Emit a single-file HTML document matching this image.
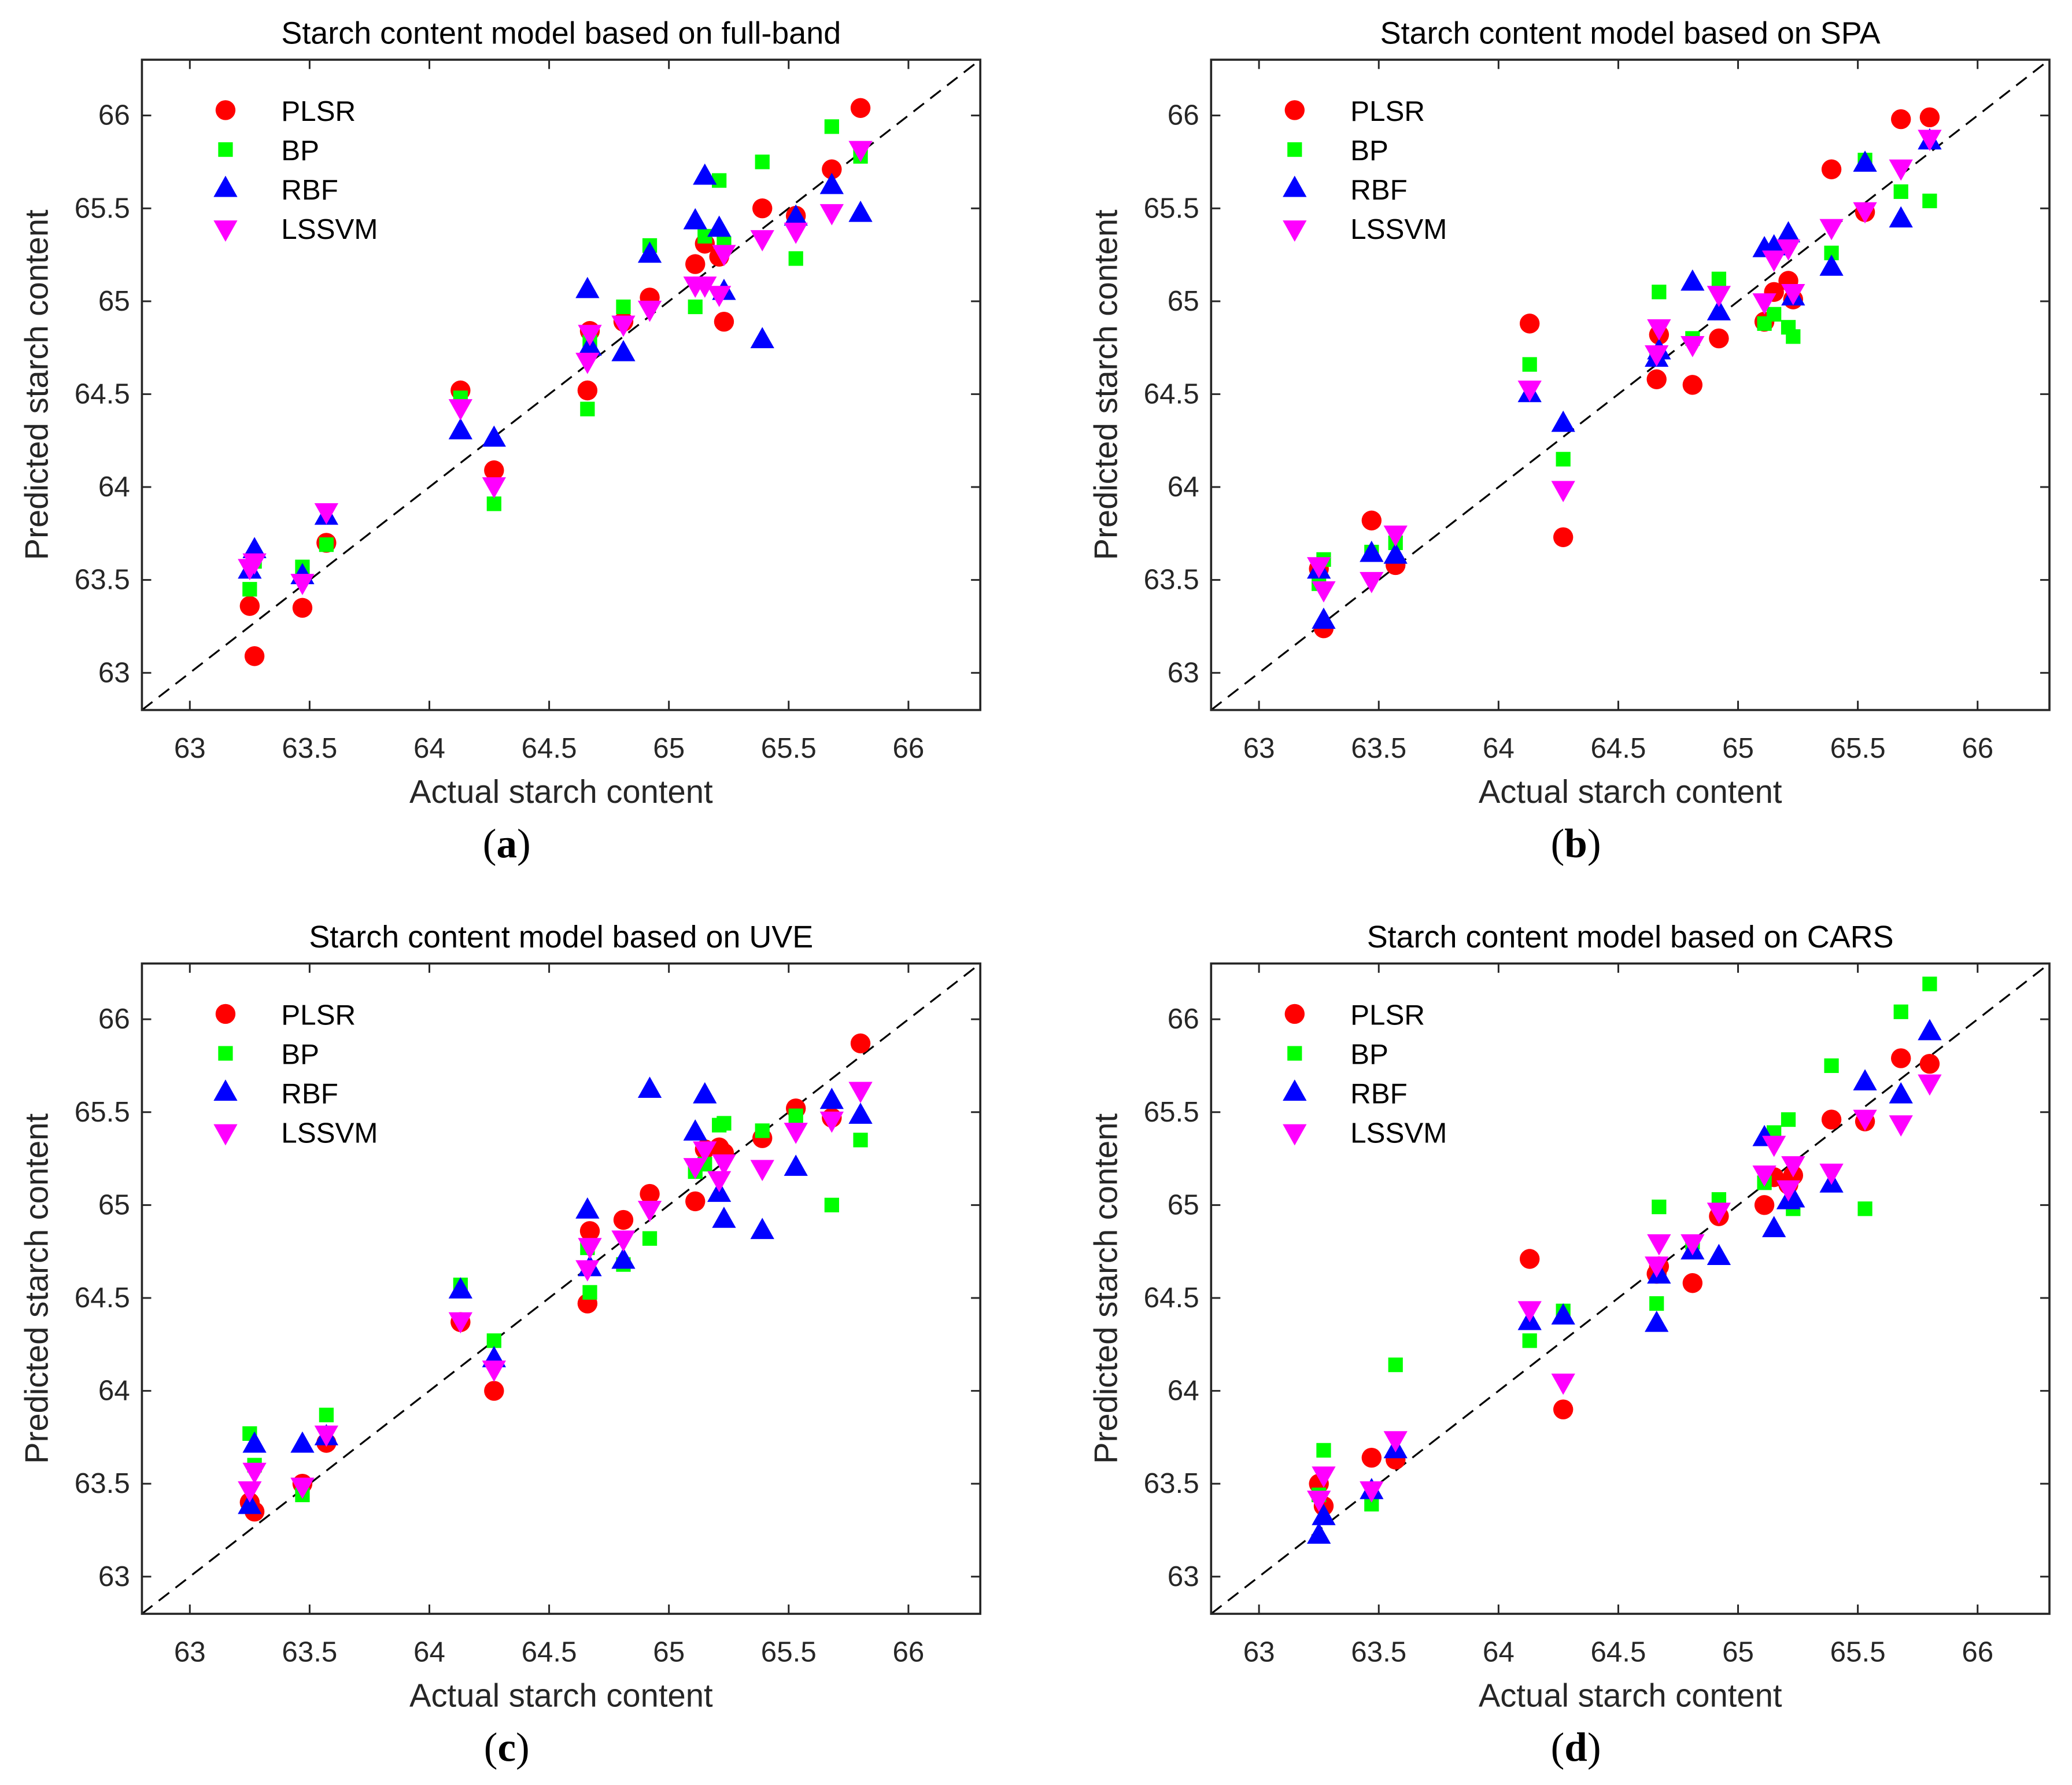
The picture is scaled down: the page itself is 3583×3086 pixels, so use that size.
<!DOCTYPE html>
<html><head><meta charset="utf-8"><style>html,body{margin:0;padding:0;background:#fff}svg{display:block}</style></head>
<body>
<svg id="fig" width="3583" height="3086" viewBox="0 0 1562 1345" preserveAspectRatio="none" xmlns="http://www.w3.org/2000/svg" font-family="Liberation Sans, Arial, sans-serif"></svg>
<script>
const actualX = [63.25,63.27,63.47,63.57,64.13,64.27,64.66,64.67,64.81,64.92,65.11,65.15,65.21,65.23,65.39,65.53,65.68,65.80];
const seriesNames = ["PLSR","BP","RBF","LSSVM"];
const ticks = [63,63.5,64,64.5,65,65.5,66];
const tickLabels = ["63","63.5","64","64.5","65","65.5","66"];
const titles = ["Starch content model based on full-band","Starch content model based on SPA","Starch content model based on UVE","Starch content model based on CARS"];
const panelLetters = ["a","b","c","d"];
const aPLSR = [63.36,63.09,63.35,63.70,64.52,64.09,64.52,64.84,64.89,65.02,65.20,65.31,65.24,64.89,65.50,65.46,65.71,66.04];
const aBP = [63.45,63.60,63.57,63.69,64.48,63.91,64.42,64.78,64.97,65.30,64.97,65.35,65.65,65.31,65.75,65.23,65.94,65.78];
const aRBF = [63.55,63.66,63.52,63.84,64.30,64.26,65.06,64.75,64.72,65.25,65.43,65.67,65.39,65.05,64.79,65.45,65.62,65.47];
const aLSSVM = [63.57,63.60,63.49,63.87,64.43,64.01,64.68,64.83,64.88,64.96,65.09,65.09,65.04,65.26,65.34,65.38,65.48,65.82];
const bPLSR = [63.56,63.24,63.82,63.58,64.88,63.73,64.58,64.82,64.55,64.80,64.89,65.05,65.11,65.01,65.71,65.48,65.98,65.99];
const bBP = [63.48,63.61,63.65,63.70,64.66,64.15,64.72,65.05,64.80,65.12,64.88,64.93,64.86,64.81,65.26,65.76,65.59,65.54];
const bRBF = [63.55,63.28,63.64,63.63,64.50,64.34,64.69,64.73,65.10,64.94,65.28,65.29,65.36,65.02,65.18,65.74,65.44,65.86];
const bLSSVM = [63.58,63.45,63.50,63.75,64.53,63.99,64.72,64.86,64.77,65.04,65.00,65.23,65.29,65.05,65.40,65.49,65.72,65.88];
const cPLSR = [63.40,63.35,63.50,63.72,64.37,64.00,64.47,64.86,64.92,65.06,65.02,65.30,65.31,65.28,65.36,65.52,65.47,65.87];
const cBP = [63.77,63.60,63.44,63.87,64.57,64.27,64.77,64.53,64.68,64.82,65.18,65.22,65.43,65.44,65.40,65.48,65.00,65.35];
const cRBF = [63.38,63.71,63.71,63.75,64.54,64.17,64.97,64.66,64.70,65.62,65.39,65.59,65.06,64.92,64.86,65.20,65.56,65.48];
const cLSSVM = [63.47,63.57,63.49,63.77,64.38,64.12,64.66,64.78,64.82,64.98,65.21,65.30,65.14,65.23,65.20,65.40,65.46,65.62];
const dPLSR = [63.50,63.38,63.64,63.63,64.71,63.90,64.63,64.67,64.58,64.94,65.00,65.15,65.11,65.16,65.46,65.45,65.79,65.76];
const dBP = [63.44,63.68,63.39,64.14,64.27,64.43,64.47,64.99,64.80,65.03,65.12,65.39,65.46,64.98,65.75,64.98,66.04,66.19];
const dRBF = [63.22,63.32,63.46,63.68,64.37,64.40,64.36,64.62,64.75,64.72,65.36,64.87,65.02,65.03,65.11,65.66,65.59,65.93];
const dLSSVM = [63.42,63.55,63.47,63.74,64.44,64.05,64.68,64.80,64.80,64.97,65.17,65.33,65.09,65.22,65.18,65.47,65.44,65.66];

const panelData = [[aPLSR,aBP,aRBF,aLSSVM],[bPLSR,bBP,bRBF,bLSSVM],[cPLSR,cBP,cRBF,cLSSVM],[dPLSR,dBP,dRBF,dLSSVM]];
const colors = ["#ff0000","#00ff00","#0000ff","#ff00ff"];
const NS = "http://www.w3.org/2000/svg";
const svg = document.getElementById("fig");
function mk(tag, attrs, parent){const e=document.createElementNS(NS,tag);for(const k in attrs)e.setAttribute(k,attrs[k]);(parent||svg).appendChild(e);return e;}
function marker(g, kind, cx, cy, color){
  let e;
  if(kind===0){e=mk("circle",{cx:cx,cy:cy,r:7.5,fill:color},g);}
  else if(kind===1){e=mk("rect",{x:cx-5.5,y:cy-5.5,width:11,height:11,fill:color},g);}
  else if(kind===2){e=mk("polygon",{points:`${cx},${cy-10} ${cx-9},${cy+6} ${cx+9},${cy+6}`,fill:color},g);}
  else {e=mk("polygon",{points:`${cx},${cy+10} ${cx-9},${cy-6} ${cx+9},${cy-6}`,fill:color},g);}
  return e;
}
const L=[107,913], T=[45,726], W=632, H=490, lo=62.8, hi=66.3;
for(let p=0;p<4;p++){
  const x0=L[p%2], y0=T[Math.floor(p/2)];
  const sx=v=>x0+(v-lo)/(hi-lo)*W;
  const sy=v=>y0+H-(v-lo)/(hi-lo)*H;
  const g=mk("g",{});
  
  
  const t=mk("text",{x:x0+W/2,y:y0-12,"text-anchor":"middle","font-size":23.5,fill:"#000"},g);t.textContent=titles[p];
  
  
  const diag=mk("line",{x1:sx(lo),y1:sy(lo),x2:sx(hi),y2:sy(hi),stroke:"#000","stroke-width":1.4,"stroke-dasharray":"10,6"},g);
  
  
  ticks.forEach((v,i)=>{
    const X=sx(v),Y=sy(v);
    mk("line",{x1:X,y1:y0+H,x2:X,y2:y0+H-7,stroke:"#262626","stroke-width":1.3},g);
    mk("line",{x1:X,y1:y0,x2:X,y2:y0+7,stroke:"#262626","stroke-width":1.3},g);
    mk("line",{x1:x0,y1:Y,x2:x0+7,y2:Y,stroke:"#262626","stroke-width":1.3},g);
    mk("line",{x1:x0+W,y1:Y,x2:x0+W-7,y2:Y,stroke:"#262626","stroke-width":1.3},g);
    const xl=mk("text",{x:X,y:y0+H+36,"text-anchor":"middle","font-size":21.5,fill:"#262626"},g);xl.textContent=tickLabels[i];
    
    
    const yl=mk("text",{x:x0-9,y:Y+7,"text-anchor":"end","font-size":21.5,fill:"#262626"},g);yl.textContent=tickLabels[i];
    
    
  });
  const xt=mk("text",{x:x0+W/2,y:y0+H+70,"text-anchor":"middle","font-size":24.5,fill:"#262626"},g);xt.textContent="Actual starch content";
  
  
  const yc=y0+H/2;
  const yt=mk("text",{x:x0-71,y:yc,"text-anchor":"middle","font-size":24.5,fill:"#262626",transform:`rotate(-90 ${x0-71} ${yc})`},g);yt.textContent="Predicted starch content";
  
  
  const lab=mk("text",{x:x0+W/2-41,y:y0+H+111,"text-anchor":"middle","font-size":31,"font-family":"Liberation Serif, serif",fill:"#000"},g);
  lab.innerHTML='(<tspan font-weight="bold">'+panelLetters[p]+'</tspan>)';
  
  
  panelData[p].forEach((ser,s)=>{
    const sg=mk("g",{},g);
    
    
    ser.forEach((v,i)=>{
      const m=marker(sg,s,sx(actualX[i]),sy(v),colors[s]);
      
      
    });
    const ly=y0+38+s*29.7;
    const lg=mk("g",{},g);
    
    
    marker(lg,s,x0+63,ly,colors[s]);
    const lt=mk("text",{x:x0+105,y:ly+8,"font-size":21.5,fill:"#000"},lg);lt.textContent=seriesNames[s];
  });
  const fr=mk("rect",{x:x0,y:y0,width:W,height:H,fill:"none",stroke:"#262626","stroke-width":1.6},g);
  
  
}
</script>
</body></html>
